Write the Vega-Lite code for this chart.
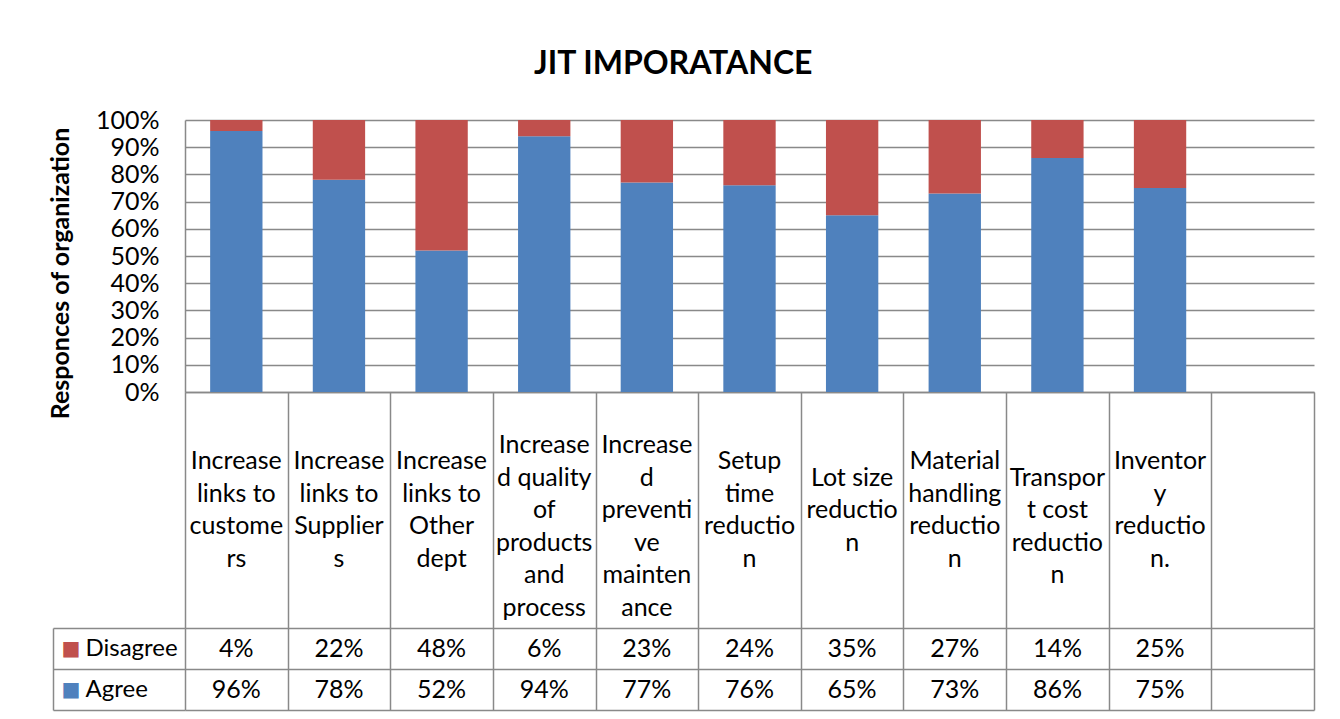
{
  "$schema": "https://vega.github.io/schema/vega-lite/v6.json",
  "background": "white",
  "padding": {"left": 48, "top": 48, "right": 26, "bottom": 9},
  "title": {"text": "JIT IMPORATANCE", "font": "Lato", "fontSize": 32, "fontWeight": "bold", "color": "black", "anchor": "middle", "offset": 27, "dx": -8},
  "data": {
    "values": [
      {"category": "Increase links to customers", "label": "Increase\nlinks to\ncustome\nrs", "response": "Agree", "value": 0.96},
      {"category": "Increase links to customers", "label": "Increase\nlinks to\ncustome\nrs", "response": "Disagree", "value": 0.04},
      {"category": "Increase links to Suppliers", "label": "Increase\nlinks to\nSupplier\ns", "response": "Agree", "value": 0.78},
      {"category": "Increase links to Suppliers", "label": "Increase\nlinks to\nSupplier\ns", "response": "Disagree", "value": 0.22},
      {"category": "Increase links to Other dept", "label": "Increase\nlinks to\nOther\ndept", "response": "Agree", "value": 0.52},
      {"category": "Increase links to Other dept", "label": "Increase\nlinks to\nOther\ndept", "response": "Disagree", "value": 0.48},
      {"category": "Increased quality of products and process", "label": "\u00a0\nIncrease\nd quality\nof\nproducts\nand\nprocess", "response": "Agree", "value": 0.94},
      {"category": "Increased quality of products and process", "label": "\u00a0\nIncrease\nd quality\nof\nproducts\nand\nprocess", "response": "Disagree", "value": 0.06},
      {"category": "Increased preventive maintenance", "label": "\u00a0\nIncrease\nd\npreventi\nve\nmainten\nance", "response": "Agree", "value": 0.77},
      {"category": "Increased preventive maintenance", "label": "\u00a0\nIncrease\nd\npreventi\nve\nmainten\nance", "response": "Disagree", "value": 0.23},
      {"category": "Setup time reduction", "label": "Setup\ntime\nreductio\nn", "response": "Agree", "value": 0.76},
      {"category": "Setup time reduction", "label": "Setup\ntime\nreductio\nn", "response": "Disagree", "value": 0.24},
      {"category": "Lot size reduction", "label": "Lot size\nreductio\nn", "response": "Agree", "value": 0.65},
      {"category": "Lot size reduction", "label": "Lot size\nreductio\nn", "response": "Disagree", "value": 0.35},
      {"category": "Material handling reduction", "label": "Material\nhandling\nreductio\nn", "response": "Agree", "value": 0.73},
      {"category": "Material handling reduction", "label": "Material\nhandling\nreductio\nn", "response": "Disagree", "value": 0.27},
      {"category": "Transport cost reduction", "label": "\u00a0\nTranspor\nt cost\nreductio\nn", "response": "Agree", "value": 0.86},
      {"category": "Transport cost reduction", "label": "\u00a0\nTranspor\nt cost\nreductio\nn", "response": "Disagree", "value": 0.14},
      {"category": "Inventory reduction.", "label": "Inventor\ny\nreductio\nn.", "response": "Agree", "value": 0.75},
      {"category": "Inventory reduction.", "label": "Inventor\ny\nreductio\nn.", "response": "Disagree", "value": 0.25}
    ]
  },
  "spacing": 0,
  "bounds": "flush",
  "vconcat": [
    {
      "width": 1129,
      "height": 272,
      "mark": {"type": "bar"},
      "encoding": {
        "x": {
          "field": "category", "type": "nominal", "sort": null,
          "scale": {
            "domain": ["Increase links to customers", "Increase links to Suppliers", "Increase links to Other dept", "Increased quality of products and process", "Increased preventive maintenance", "Setup time reduction", "Lot size reduction", "Material handling reduction", "Transport cost reduction", "Inventory reduction.", " "],
            "paddingInner": 0.49, "paddingOuter": 0.245
          },
          "axis": {"title": null, "labels": false, "ticks": false, "grid": false, "domain": true, "domainColor": "#898989", "domainWidth": 1.5}
        },
        "y": {
          "field": "value", "type": "quantitative", "stack": "zero",
          "scale": {"domain": [0, 1]},
          "axis": {
            "title": "Responces of organization",
            "values": [0, 0.1, 0.2, 0.3, 0.4, 0.5, 0.6, 0.7, 0.8, 0.9, 1],
            "format": ".0%",
            "grid": true, "gridColor": "#898989", "gridWidth": 1.5,
            "ticks": false,
            "domain": true, "domainColor": "#898989", "domainWidth": 1.5,
            "labelFont": "Lato", "labelFontSize": 25, "labelColor": "black", "labelPadding": 26,
            "labelOverlap": false, "labelFlush": false,
            "titleFont": "Lato", "titleFontSize": 25, "titleFontWeight": "bold", "titleColor": "black",
            "titlePadding": 22, "titleY": 153
          }
        },
        "color": {
          "field": "response", "type": "nominal",
          "scale": {"domain": ["Disagree", "Agree"], "range": ["#C0504D", "#4F81BD"]},
          "legend": null
        },
        "order": {"field": "response", "type": "nominal", "sort": "ascending"}
      }
    },
    {
      "width": 1129,
      "height": 236,
      "transform": [{"filter": "datum.response === 'Agree'"}],
      "mark": {
        "type": "text", "lineBreak": "\n", "lineHeight": 32.5, "fontSize": 25, "font": "Lato",
        "align": "center", "baseline": "middle", "color": "black",
        "dy": {"expr": "-16.25 * (length(split(datum.label, '\\n')) - 1)"}
      },
      "encoding": {
        "x": {
          "field": "category", "type": "nominal", "sort": null,
          "scale": {
            "domain": ["Increase links to customers", "Increase links to Suppliers", "Increase links to Other dept", "Increased quality of products and process", "Increased preventive maintenance", "Setup time reduction", "Lot size reduction", "Material handling reduction", "Transport cost reduction", "Inventory reduction.", " "],
            "paddingInner": 0, "paddingOuter": 0
          },
          "axis": {"title": null, "labels": false, "ticks": false, "domain": false, "grid": true, "tickBand": "extent", "gridColor": "#898989", "gridWidth": 1.5}
        },
        "text": {"field": "label", "type": "nominal"}
      }
    },
    {
      "width": 1129,
      "height": 82,
      "encoding": {
        "x": {
          "field": "category", "type": "nominal", "sort": null,
          "scale": {
            "domain": ["Increase links to customers", "Increase links to Suppliers", "Increase links to Other dept", "Increased quality of products and process", "Increased preventive maintenance", "Setup time reduction", "Lot size reduction", "Material handling reduction", "Transport cost reduction", "Inventory reduction.", " "],
            "paddingInner": 0, "paddingOuter": 0
          },
          "axis": {"title": null, "labels": false, "ticks": false, "domain": false, "grid": true, "tickBand": "extent", "gridColor": "#898989", "gridWidth": 1.5}
        }
      },
      "layer": [
        {
          "mark": {"type": "rect", "fillOpacity": 0, "strokeWidth": 0},
          "encoding": {
            "y": {
              "field": "response", "type": "nominal",
              "scale": {"domain": ["Disagree", "Agree"], "paddingInner": 0, "paddingOuter": 0},
              "axis": {
                "orient": "left", "title": null, "domain": false,
                "ticks": true, "tickBand": "extent", "tickSize": 132, "tickColor": "#898989", "tickWidth": 1.5,
                "grid": true, "gridColor": "#898989", "gridWidth": 1.5,
                "labelExpr": "datum.value === 'Disagree' || datum.value === 'Agree' ? '■' : ''",
                "labelFont": "DejaVu Sans", "labelFontSize": 20,
                "labelAlign": "center", "labelBaseline": "middle", "labelPadding": -17.5,
                "labelColor": {"condition": {"test": "datum.value === 'Disagree'", "value": "#C0504D"}, "value": "#4F81BD"}
              }
            }
          }
        },
        {
          "mark": {"type": "text", "fontSize": 25, "font": "Lato", "align": "center", "baseline": "middle", "color": "black"},
          "encoding": {
            "y": {
              "field": "response", "type": "nominal",
              "scale": {"domain": ["Disagree", "Agree"], "paddingInner": 0, "paddingOuter": 0},
              "axis": {
                "orient": "left", "title": null, "offset": 132,
                "domain": true, "domainColor": "#898989", "domainWidth": 1.5,
                "ticks": false, "grid": false,
                "labelFont": "Lato", "labelFontSize": 24, "labelColor": "black",
                "labelAlign": "left", "labelBaseline": "middle", "labelPadding": -32
              }
            },
            "text": {"field": "value", "type": "quantitative", "format": ".0%"}
          }
        }
      ],
      "resolve": {"axis": {"y": "independent"}}
    }
  ],
  "config": {"view": {"stroke": null}, "font": "Lato"}
}
